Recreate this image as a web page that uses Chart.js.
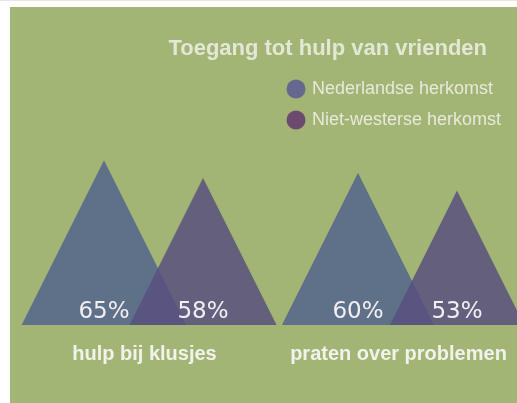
<!DOCTYPE html>
<html>
<head>
<meta charset="utf-8">
<script src="https://cdn.jsdelivr.net/npm/chart.js@4/dist/chart.umd.min.js"></script>
<style>
  html, body { margin: 0; padding: 0; background: #fff; }
  body { width: 517px; height: 403px; overflow: hidden; border-top: 1px solid #e6e6e6; box-sizing: border-box; }
  #wrap { position: absolute; left: 10px; top: 7px; width: 507px; height: 396px; background: #a3b574; }
</style>
</head>
<body>
<div id="wrap"><canvas id="chart"></canvas></div>
<script>
// data
var categories = ["hulp bij klusjes", "praten over problemen"];
var series_names = ["Nederlandse herkomst", "Niet-westerse herkomst"];
var nederlandse = [65, 60];
var niet_westerse = [58, 53];

// colours
var tri_colors = ["#5f7189", "rgba(89, 79, 128, 0.84)"];
var legend_colors = ["#66698f", "#6b4a6e"];
var text_color = "#f2f2ec";

function to_points(values) {
	return values.map(function (v, i) { return { x: i, y: v }; });
}

// bars are drawn as triangles: apex at the value, base width = height
var triangles = {
	id: "triangles",
	beforeDatasetDraw: function () { return false; },
	afterDatasetsDraw: function (chart) {
		var ctx = chart.ctx;
		ctx.save();
		chart.data.datasets.forEach(function (ds, d) {
			chart.getDatasetMeta(d).data.forEach(function (bar) {
				var half = (bar.base - bar.y) / 2;
				ctx.beginPath();
				ctx.moveTo(bar.x - half, bar.base);
				ctx.lineTo(bar.x, bar.y);
				ctx.lineTo(bar.x + half, bar.base);
				ctx.closePath();
				ctx.fillStyle = ds.backgroundColor;
				ctx.fill();
			});
		});
		ctx.font = "23px 'DejaVu Sans'";
		ctx.fillStyle = "#f1eff5";
		ctx.textAlign = "center";
		ctx.textBaseline = "alphabetic";
		chart.data.datasets.forEach(function (ds, d) {
			chart.getDatasetMeta(d).data.forEach(function (bar, i) {
				ctx.fillText(ds.data[i].y + "%", bar.x, bar.base - 7);
			});
		});
		ctx.restore();
	}
};

// legend stacked under the title, right side
var legend_block = {
	id: "legend_block",
	afterDraw: function (chart) {
		var ctx = chart.ctx;
		ctx.save();
		ctx.font = "18px 'Liberation Sans'";
		ctx.textBaseline = "middle";
		ctx.textAlign = "left";
		chart.data.datasets.forEach(function (ds, d) {
			var y = 82 + d * 31;
			ctx.beginPath();
			ctx.arc(286, y, 9.5, 0, Math.PI * 2);
			ctx.fillStyle = legend_colors[d];
			ctx.fill();
			ctx.fillStyle = "#e6e9dc";
			ctx.fillText(ds.label, 302, y);
		});
		ctx.restore();
	}
};

var chart_ctx = document.getElementById("chart");
var chart = new Chart(chart_ctx, {
	type: "bar",
	data: {
		datasets: [
			{ label: series_names[0], data: to_points(nederlandse), backgroundColor: tri_colors[0] },
			{ label: series_names[1], data: to_points(niet_westerse), backgroundColor: tri_colors[1] }
		]
	},
	options: {
		responsive: true,
		maintainAspectRatio: false,
		animation: false,
		layout: { padding: { top: 0, right: 30, bottom: 20, left: 0 } },
		datasets: { bar: { categoryPercentage: 0.78, barPercentage: 1 } },
		scales: {
			x: {
				type: "linear",
				offset: false,
				bounds: "data",
				min: -0.565,
				max: 1.313,
				grid: { display: false, drawTicks: false, offset: false },
				border: { display: false },
				afterBuildTicks: function (axis) {
					axis.ticks = categories.map(function (c, i) { return { value: i }; });
				},
				afterFit: function (axis) {
					// labels may run past the plot edge, keep the plot width fixed
					axis.paddingLeft = 0;
					axis.paddingRight = 0;
				},
				ticks: {
					autoSkip: false,
					maxRotation: 0,
					padding: 17,
					labelOffset: -9,
					color: text_color,
					font: { family: "'Liberation Sans'", size: 20, weight: "bold" },
					callback: function (v) { return categories[v]; }
				}
			},
			y: { display: false, min: 0, max: 100 }
		},
		plugins: {
			legend: { display: false },
			tooltip: { enabled: false },
			title: {
				display: true,
				text: "Toegang tot hulp van vrienden",
				align: "end",
				color: "#e3e7d6",
				font: { family: "'Liberation Sans'", size: 22, weight: "bold" },
				padding: { top: 29, bottom: 9 }
			}
		}
	},
	plugins: [triangles, legend_block]
});
</script>
</body>
</html>
